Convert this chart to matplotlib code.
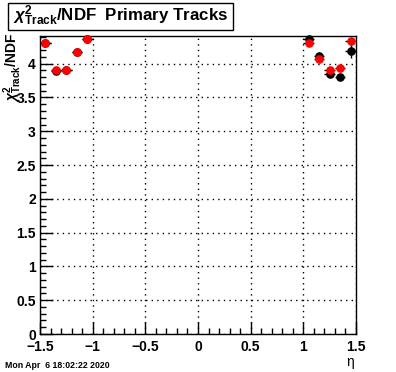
import matplotlib
matplotlib.use("Agg")
import matplotlib.pyplot as plt
from matplotlib.patches import Rectangle
from matplotlib.ticker import MultipleLocator
import numpy as np

plt.rcParams['font.family'] = ['Liberation Sans', 'DejaVu Sans']
plt.rcParams['mathtext.fontset'] = 'custom'
plt.rcParams['mathtext.rm'] = 'Liberation Sans:bold'
plt.rcParams['mathtext.it'] = 'Liberation Sans:italic:bold'
plt.rcParams['mathtext.bf'] = 'Liberation Sans:bold'

# data
eta = [-1.45, -1.35, -1.25, -1.15, -1.05, 1.05, 1.15, 1.25, 1.35, 1.45]
black_vals = [4.31, 3.89, 3.90, 4.17, 4.36, 4.36, 4.11, 3.85, 3.80, 4.19]
black_errs = [0.02, 0.02, 0.02, 0.02, 0.02, 0.03, 0.03, 0.03, 0.03, 0.10]
red_vals = [4.31, 3.90, 3.90, 4.18, 4.36, 4.31, 4.07, 3.90, 3.94, 4.34]
red_errs = [0.02, 0.02, 0.02, 0.02, 0.02, 0.02, 0.02, 0.02, 0.02, 0.03]
bin_half = 0.05

title = r"$\chi^{2}_{\mathbf{Track}}$/NDF  Primary Tracks"
ylabel = r"$\chi^{2}_{\mathbf{Track}}$/NDF"
xlabel = "η"
datestamp = "Mon Apr  6 18:02:22 2020"

fig = plt.figure(figsize=(3.96, 3.72), dpi=100)
ax = fig.add_axes([40/396, 1-334/372, 316/396, 298/372])

ax.errorbar(eta, black_vals, xerr=bin_half, yerr=black_errs, fmt='o', color='black',
            ecolor='black', elinewidth=1, markersize=5.2, capsize=0, zorder=3,
            clip_on=False)
ax.errorbar(eta, red_vals, xerr=bin_half, yerr=red_errs, fmt='o', color='red',
            mfc='red', mec='red', ecolor='black', elinewidth=1, markersize=5.2,
            capsize=0, zorder=4, clip_on=False)

ax.set_xlim(-1.5, 1.5)
ax.set_ylim(0, 4.41)
ax.xaxis.set_major_locator(MultipleLocator(0.5))
ax.xaxis.set_minor_locator(MultipleLocator(0.1))
ax.yaxis.set_major_locator(MultipleLocator(0.5))
ax.yaxis.set_minor_locator(MultipleLocator(0.1))
ax.tick_params(which='both', direction='in', top=False, right=False)
ax.tick_params(which='major', length=9, width=1)
ax.tick_params(which='minor', length=4.5, width=1)
ax.grid(True, which='major', linestyle=(0, (1, 3)), color='black', linewidth=1)
for s in ax.spines.values():
    s.set_linewidth(1)

# tick labels
xt = [-1.5, -1, -0.5, 0, 0.5, 1, 1.5]
ax.set_xticks(xt)
ax.set_xticklabels(["\u22121.5", "\u22121", "\u22120.5", "0", "0.5", "1", "1.5"],
                   fontsize=10, fontweight='bold')
ax.tick_params(axis='x', pad=4)
yt = [0, 0.5, 1, 1.5, 2, 2.5, 3, 3.5, 4]
ax.set_yticks(yt)
ax.set_yticklabels(["0", "0.5", "1", "1.5", "2", "2.5", "3", "3.5", "4"],
                   fontsize=10, fontweight='bold')
ax.tick_params(axis='y', pad=3)

# y label
fig.text(13/396, 1-33/372, ylabel, rotation=90, ha='center', va='top',
         fontsize=10, fontweight='bold')
# x label
fig.text(350/396, 1-362/372, xlabel, ha='center', va='center', fontsize=10)
# date stamp
fig.text(5/396, 1-365/372, datestamp, ha='left', va='center', fontsize=6.3,
         fontweight='bold')

# title box
fig.patches.append(Rectangle((8/396, 1-30/372), 225/396, 27/372,
                             transform=fig.transFigure, facecolor='white',
                             edgecolor='black', linewidth=1))
fig.text(121/396, 1-16/372, title, ha='center', va='center', fontsize=12.2,
         fontweight='bold')

fig.savefig("out.png", dpi=100)
